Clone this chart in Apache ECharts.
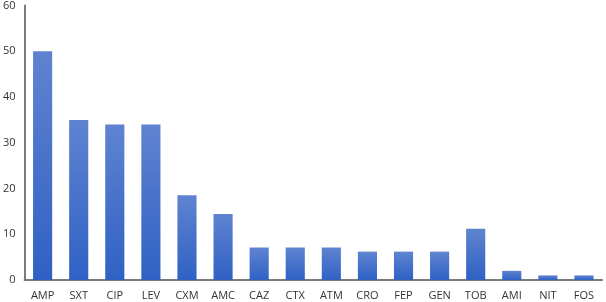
<!DOCTYPE html>
<html>
<head>
<meta charset="utf-8">
<script src="https://cdn.jsdelivr.net/npm/echarts@6/dist/echarts.min.js"></script>
<style>
  html, body { margin: 0; padding: 0; background: #fff; }
  #chart { width: 606px; height: 302px; }
</style>
</head>
<body>
<div id="chart"></div>
<script>
const categories = ["AMP", "SXT", "CIP", "LEV", "CXM", "AMC", "CAZ", "CTX", "ATM", "CRO", "FEP", "GEN", "TOB", "AMI", "NIT", "FOS"];
const values = [50, 35, 34, 34, 18.5, 14.4, 7.1, 7.1, 7.1, 6.2, 6.2, 6.2, 11.2, 2, 1, 1];
const yTicks = [0, 10, 20, 30, 40, 50, 60];

let myChart = echarts.init(document.getElementById("chart"));
let options = {
  animation: false,
  grid: { left: 23, right: 4, top: 5, bottom: 22 },
  xAxis: {
    type: "category",
    data: categories,
    axisLine: { lineStyle: { color: "#7a7a7a", width: 2 } },
    axisTick: { show: false },
    axisLabel: { color: "#333", fontSize: 11, fontFamily: "Open Sans", margin: 10 },
  },
  yAxis: {
    type: "value",
    min: yTicks[0],
    max: yTicks[yTicks.length - 1],
    interval: 10,
    axisLine: { show: true, lineStyle: { color: "#7a7a7a", width: 2 } },
    axisTick: { show: false },
    splitLine: { show: false },
    axisLabel: { color: "#333", fontSize: 11, fontFamily: "Open Sans", margin: 9 },
  },
  series: [
    {
      type: "bar",
      data: values,
      barWidth: "53%",
      itemStyle: {
        color: new echarts.graphic.LinearGradient(0, 0, 0, 1, [
          { offset: 0, color: "#5f83d0" },
          { offset: 1, color: "#2f61c4" },
        ]),
      },
    },
  ],
};
myChart.setOption(options);
</script>
</body>
</html>
